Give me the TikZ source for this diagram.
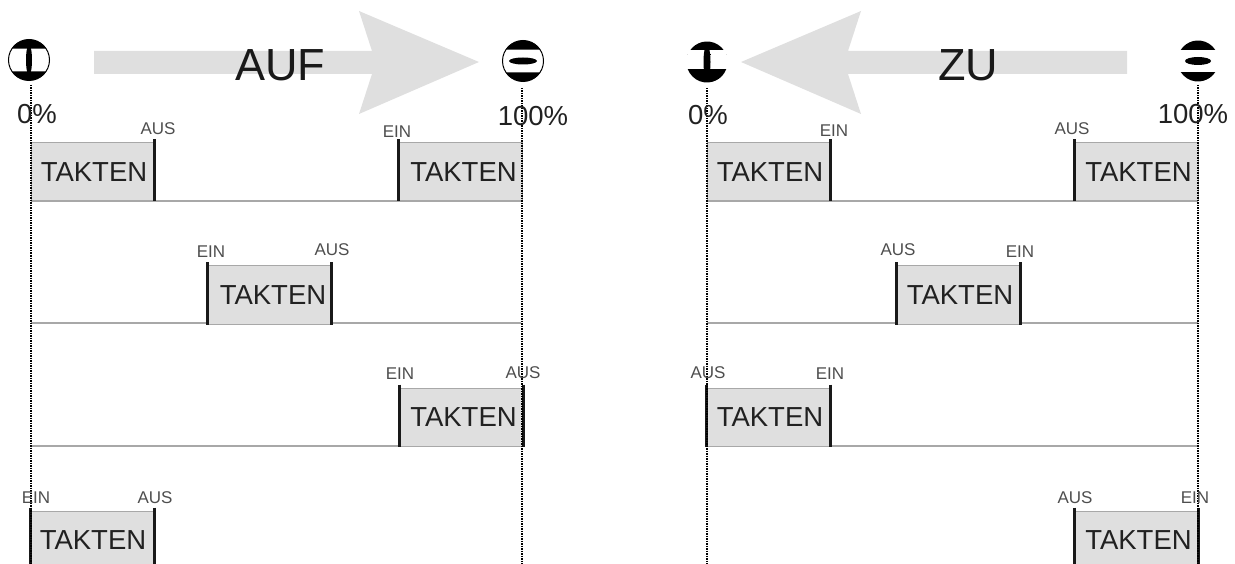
\documentclass[tikz,border=0pt]{standalone}
\usepackage{fontspec}
\setmainfont{Liberation Sans}
\usepackage{xcolor}
\definecolor{taktgray}{gray}{0.875}
\definecolor{edgegray}{gray}{0.66}
\definecolor{textgray}{gray}{0.13}
\tikzset{
  takten/.style={fill=taktgray,draw=edgegray,line width=1pt,inner sep=0pt,minimum width=123pt,minimum height=58pt,text=textgray,font=\fontsize{27.5}{27.5}\selectfont},
  schalt/.style={inner sep=0pt,text=textgray!80,font=\fontsize{17}{17}\selectfont},
  prozent/.style={inner sep=0pt,text=textgray,font=\fontsize{27.5}{27.5}\selectfont},
  richtung/.style={inner sep=0pt,text=black!90,font=\fontsize{45}{45}\selectfont},
  bar/.style={black!90,line width=3pt},
  row/.style={edgegray,line width=1.2pt},
  skala/.style={black,line width=2pt,dash pattern=on 1.5pt off 1pt},
  ventil/.style={black,line width=1pt,fill=white},
}
\begin{document}
\begin{tikzpicture}[x=1pt,y=-1pt]
\clip (0,0) rectangle (1235,564);

    % arrows
    \fill[taktgray] (94,51) -- (372,51) -- (359,11) -- (479,62) -- (359,114) -- (372,74) -- (94,74) -- cycle;
    \fill[taktgray] (1127,51) -- (848,51) -- (861,11) -- (741,62) -- (861,114) -- (848,74) -- (1127,74) -- cycle;
    \node[richtung] (auf) at (280,65) {AUF};
    \node[richtung] (zu) at (968,65) {ZU};

    % valves
    \draw[ventil] (29,60) circle(20.5);
    \fill[black] (29,60) ++(34:20.5) arc(34:146:20.5) -- cycle;
    \fill[black] (29,60) ++(214:20.5) arc(214:326:20.5) -- cycle;
    \fill[black] (29,60) ellipse(3 and 15);

    \draw[ventil] (523,61) circle(20.5);
    \fill[black] (523,61) ++(34:20.5) arc(34:146:20.5) -- cycle;
    \fill[black] (523,61) ++(214:20.5) arc(214:326:20.5) -- cycle;
    \fill[black] (523,61) ellipse(14 and 3.5);

    \fill[black] (707,62) ++(20:20.5) arc(20:160:20.5) -- cycle;
    \fill[black] (707,62) ++(200:20.5) arc(200:340:20.5) -- cycle;
    \fill[white] (707,62) ++(-19,-8) rectangle ++(15.5,13.5);
    \fill[white] (707,62) ++(3.5,-8) rectangle ++(15.5,13.5);
    \fill[white] (707,62) ++(-19,-12) rectangle ++(38,4);
    \fill[black] (707,62) ellipse(3.5 and 17);

    \fill[black] (1198,61) ++(20:20.5) arc(20:160:20.5) -- cycle;
    \fill[black] (1198,61) ++(200:20.5) arc(200:340:20.5) -- cycle;
    \fill[white] (1198,61) ++(-20,-11) rectangle ++(40,4.5);
    \fill[white] (1198,61) ++(-20,6.5) rectangle ++(40,4.5);
    \fill[white] (1198,61) ++(-20,-6.5) rectangle ++(40,13);
    \fill[black] (1198,61) ellipse(13 and 4);

    % base lines
    \draw[row] (31,201) coordinate(la) -- (521,201) coordinate(lb);
    \draw[row] (31,323) coordinate(lc) -- (521,323) coordinate(ld);
    \draw[row] (31,446) coordinate(le) -- (521,446) coordinate(lf);
    \draw[row] (707,201) coordinate(ra) -- (1198,201) coordinate(rb);
    \draw[row] (707,323) coordinate(rc) -- (1198,323) coordinate(rd);
    \draw[row] (707,446) coordinate(re) -- (1198,446) coordinate(rf);

    % left side
    \node[takten] (taktA) at (92.5,172) {\hspace{3pt}TAKTEN};
    \node[takten] (taktB) at (460.5,172) {\hspace{6pt}TAKTEN};
    \node[takten] (taktC) at (269.5,295) {\hspace{7pt}TAKTEN};
    \node[takten] (taktD) at (461,417) {\hspace{5pt}TAKTEN};
    \node[takten] (taktE) at (92.5,540) {\hspace{1pt}TAKTEN};
    \draw[bar] ([yshift=3pt]taktA.north east) -- (taktA.south east);
    \draw[bar] ([yshift=3pt]taktB.north west) -- (taktB.south west);
    \draw[bar] ([yshift=3pt]taktC.north west) -- (taktC.south west);
    \draw[bar] ([yshift=3pt]taktC.north east) -- (taktC.south east);
    \draw[bar] ([yshift=3pt]taktD.north west) -- (taktD.south west);
    \draw[bar] ([yshift=3pt]taktD.north east) -- (taktD.south east);
    \draw[bar] ([yshift=3pt]taktE.north west) -- (taktE.south west);
    \draw[bar] ([yshift=3pt]taktE.north east) -- (taktE.south east);

    % right side
    \node[takten] (taktF) at (768.5,172) {\hspace{3pt}TAKTEN};
    \node[takten] (taktG) at (1136.5,172) {\hspace{4pt}TAKTEN};
    \node[takten] (taktH) at (958.5,295) {\hspace{3pt}TAKTEN};
    \node[takten] (taktI) at (768.5,417) {\hspace{3pt}TAKTEN};
    \node[takten] (taktJ) at (1136.5,540) {\hspace{4pt}TAKTEN};
    \draw[bar] ([yshift=3pt]taktF.north east) -- (taktF.south east);
    \draw[bar] ([yshift=3pt]taktG.north west) -- (taktG.south west);
    \draw[bar] ([yshift=3pt]taktH.north west) -- (taktH.south west);
    \draw[bar] ([yshift=3pt]taktH.north east) -- (taktH.south east);
    \draw[bar] ([yshift=3pt]taktI.north west) -- (taktI.south west);
    \draw[bar] ([yshift=3pt]taktI.north east) -- (taktI.south east);
    \draw[bar] ([yshift=3pt]taktJ.north west) -- (taktJ.south west);
    \draw[bar] ([yshift=3pt]taktJ.north east) -- (taktJ.south east);

    % scale lines
    \draw[skala] (31,85) coordinate(sa) -- (31,564) coordinate(sb);
    \draw[skala] (521.5,88) coordinate(sc) -- (521.5,564) coordinate(sd);
    \draw[skala] (707,88) coordinate(se) -- (707,564) coordinate(sf);
    \draw[skala] (1198,85) coordinate(sg) -- (1198,564) coordinate(sh);

    % labels
    \node[prozent] (nullA) at (37,114) {0\%};
    \node[prozent] (vollA) at (533,116) {100\%};
    \node[prozent] (nullB) at (708,115) {0\%};
    \node[prozent] (vollB) at (1193,114) {100\%};

    \node[schalt] (ausA) at (158,129) {AUS};
    \node[schalt] (einA) at (397,132) {EIN};
    \node[schalt] (einB) at (211,252) {EIN};
    \node[schalt] (ausB) at (332,250) {AUS};
    \node[schalt] (einC) at (400,374) {EIN};
    \node[schalt] (ausC) at (523,373) {AUS};
    \node[schalt] (einD) at (36,498) {EIN};
    \node[schalt] (ausD) at (155,498) {AUS};

    \node[schalt] (einE) at (834,131) {EIN};
    \node[schalt] (ausE) at (1072,129) {AUS};
    \node[schalt] (ausF) at (898,250) {AUS};
    \node[schalt] (einF) at (1020,252) {EIN};
    \node[schalt] (ausG) at (708,373) {AUS};
    \node[schalt] (einG) at (830,374) {EIN};
    \node[schalt] (ausH) at (1075,498) {AUS};
    \node[schalt] (einH) at (1195,498) {EIN};

\end{tikzpicture}
\end{document}
